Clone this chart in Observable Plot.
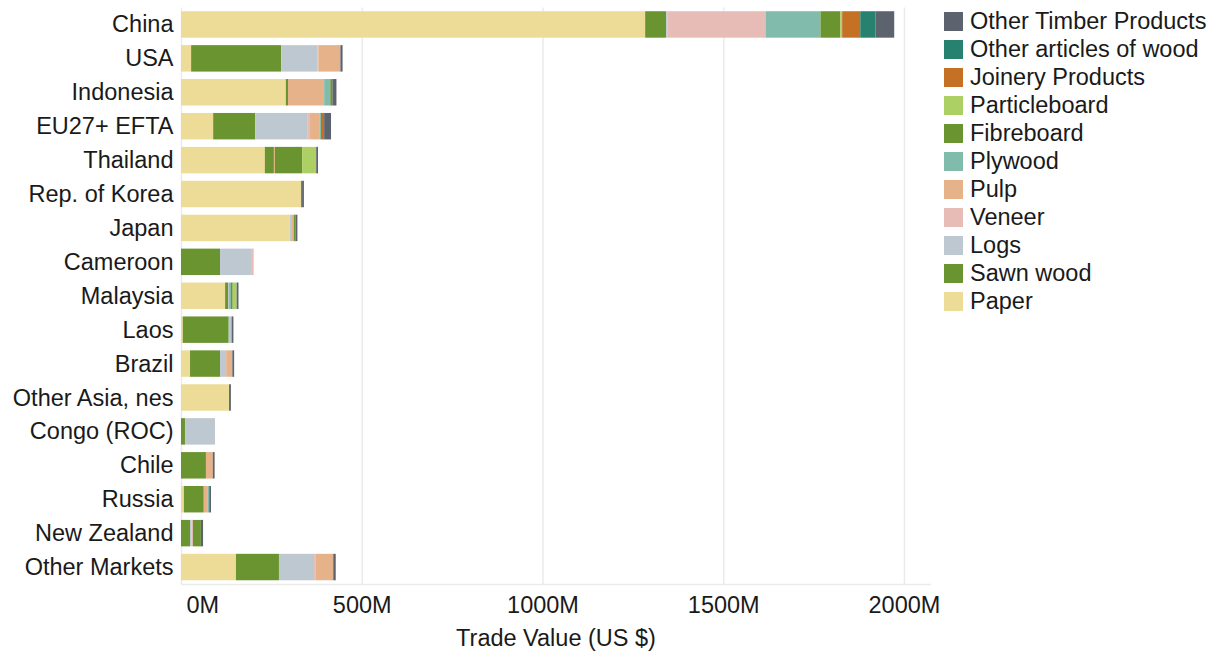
<!DOCTYPE html>
<html>
<head>
<meta charset="utf-8">
<script src="https://cdn.jsdelivr.net/npm/d3@7"></script>
<script src="https://cdn.jsdelivr.net/npm/@observablehq/plot@0.6"></script>
<style>
  body { margin: 0; background: #fff; font-family: "Liberation Sans", Arial, sans-serif; }
  #wrap { position: relative; width: 1223px; height: 660px; }
  #legend { position: absolute; left: 944px; top: 7.5px; }
  .row { display: flex; align-items: center; height: 28px; }
  .sw { width: 19px; height: 19px; margin-right: 7px; flex: none; }
  .lab { font-size: 23.5px; color: #1a1a1a; white-space: nowrap; }
</style>
</head>
<body>
<div id="wrap"><div id="chart"></div><div id="legend"></div></div>
<script>
// Markets, top to bottom
const countries = ["China", "USA", "Indonesia", "EU27+ EFTA", "Thailand", "Rep. of Korea", "Japan",
  "Cameroon", "Malaysia", "Laos", "Brazil", "Other Asia, nes", "Congo (ROC)", "Chile", "Russia",
  "New Zealand", "Other Markets"];

// Product groups in stacking order (left to right) and their colours
const products = ["Paper", "Sawn wood", "Logs", "Veneer", "Pulp", "Plywood", "Fibreboard",
  "Particleboard", "Joinery Products", "Other articles of wood", "Other Timber Products"];
const productColors = ["#ecdc98", "#6a9430", "#bec8d1", "#e8bcb6", "#e6b289", "#80bbab", "#6a9430",
  "#acd063", "#c47125", "#26826f", "#5c636e"];

// Trade value in million US $, one value per market (same order as countries)
const paper         = [1284, 28, 290, 89, 232, 332, 301, 0, 122, 5, 25, 133, 0, 0, 8, 0, 152];
const sawnWood      = [58, 249, 6, 116, 25, 0, 0, 108, 8, 127, 83, 0, 11, 69, 55, 25, 119];
const logs          = [3, 100, 0, 144, 0, 0, 6, 88, 3, 8, 17, 0, 83, 0, 0, 4, 97];
const veneer        = [272, 3, 0, 8, 0, 0, 0, 5, 0, 0, 0, 0, 0, 0, 0, 4, 5];
const pulp          = [0, 61, 100, 27, 3, 0, 5, 0, 0, 0, 17, 0, 0, 19, 11, 0, 47];
const plywood       = [152, 0, 17, 3, 0, 0, 0, 0, 5, 0, 0, 0, 0, 0, 4, 0, 0];
const fibreboard    = [55, 0, 6, 3, 75, 3, 5, 0, 5, 0, 0, 0, 0, 0, 0, 22, 0];
const particleboard = [5, 0, 0, 0, 39, 0, 0, 0, 11, 0, 0, 0, 0, 0, 0, 0, 0];
const joinery       = [50, 0, 0, 6, 0, 0, 0, 0, 0, 0, 0, 0, 0, 0, 0, 0, 3];
const otherArticles = [42, 0, 0, 0, 0, 0, 0, 0, 0, 0, 0, 0, 0, 0, 0, 0, 0];
const otherTimber   = [52, 6, 11, 19, 5, 5, 5, 0, 5, 5, 5, 5, 0, 5, 5, 6, 5];

const xTicks = [0, 500, 1000, 1500, 2000];

const series = [paper, sawnWood, logs, veneer, pulp, plywood, fibreboard, particleboard,
  joinery, otherArticles, otherTimber];

const rows = products.flatMap((product, i) =>
  countries.map((country, j) => ({country, product, value: series[i][j]})));

const font = '"Liberation Sans", Arial, sans-serif';
const fs = 23.5;

const chart = Plot.plot({
  width: 1223,
  height: 660,
  marginLeft: 181,
  marginRight: 293,
  marginTop: 7.5,
  marginBottom: 76,
  style: {fontFamily: font, fontSize: fs + "px", color: "#1a1a1a", background: "#fff"},
  x: {domain: [0, 2072], label: null},
  y: {domain: countries, paddingInner: 0.22, paddingOuter: 0.11, round: false, label: null},
  color: {domain: products, range: productColors},
  marks: [
    Plot.gridX(xTicks, {stroke: "#ebebeb", strokeOpacity: 1, strokeWidth: 1.5}),
    Plot.frame({anchor: "bottom", stroke: "#ebebeb", strokeWidth: 1.5}),
    Plot.barX(rows, Plot.stackX({y: "country", x: "value", fill: "product", order: products})),
    Plot.axisY({tickSize: 0, tickPadding: 8, fontSize: fs, label: null}),
    Plot.axisX([0], {tickSize: 0, tickPadding: 12, fontSize: fs, textAnchor: "start", dx: 5,
      tickFormat: d => d + "M", label: null}),
    Plot.axisX(xTicks.slice(1), {tickSize: 0, tickPadding: 12, fontSize: fs,
      tickFormat: d => d + "M", label: null}),
    Plot.text(["Trade Value (US $)"], {frameAnchor: "bottom", dy: 61, fontSize: fs,
      fill: "#1a1a1a", text: d => d})
  ]
});
document.getElementById("chart").appendChild(chart);

// Legend: last product on top
const legend = d3.select("#legend");
products.map((p, i) => ({p, c: productColors[i]})).reverse().forEach(({p, c}) => {
  const row = legend.append("div").attr("class", "row");
  row.append("div").attr("class", "sw").style("background", c);
  row.append("div").attr("class", "lab").text(p);
});
</script>
</body>
</html>
